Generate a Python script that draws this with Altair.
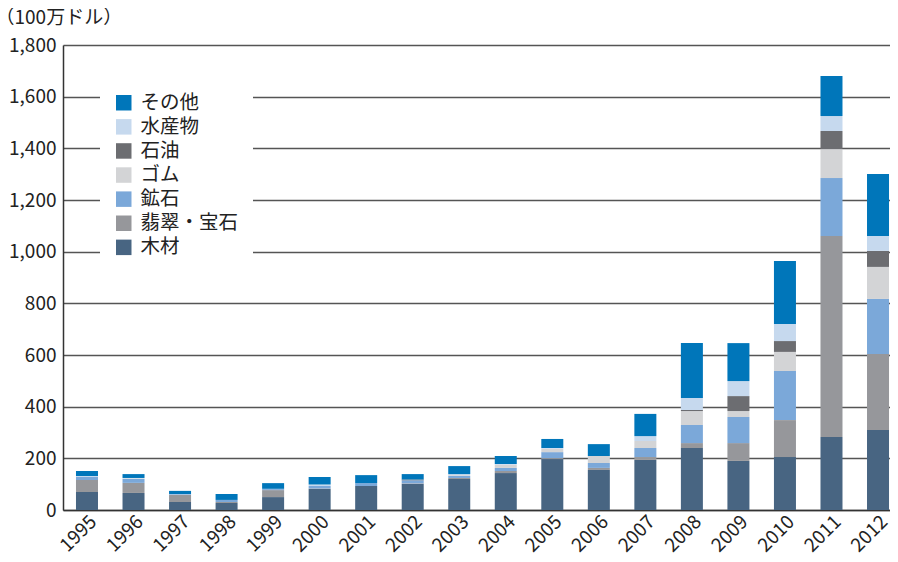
import altair as alt
import pandas as pd

years = [str(y) for y in range(1995, 2013)]
wood     = [70, 66, 31, 27, 50, 81, 93, 101, 120, 143, 197, 155, 194, 240, 190, 205, 283, 310]
jade     = [46, 39, 27, 4, 27, 2, 0, 2, 4, 8, 4, 8, 11, 19, 69, 143, 778, 294]
ore      = [12, 15, 3, 8, 4, 10, 11, 12, 8, 12, 23, 19, 35, 70, 101, 190, 224, 213]
rubber   = [0, 2, 0, 0, 0, 0, 0, 0, 3, 12, 13, 27, 27, 54, 23, 74, 112, 124]
oil      = [0, 0, 0, 0, 0, 0, 0, 3, 0, 0, 0, 0, 0, 4, 58, 42, 70, 62]
fish     = [4, 2, 1, 0, 1, 6, 0, 0, 4, 3, 3, 0, 19, 47, 58, 66, 58, 58]
other    = [19, 15, 12, 23, 22, 29, 31, 21, 31, 31, 35, 46, 86, 212, 147, 244, 155, 240]

cats = ["木材", "翡翠・宝石", "鉱石", "ゴム", "石油", "水産物", "その他"]
series = [wood, jade, ore, rubber, oil, fish, other]
colors = {"その他": "#0076BA", "水産物": "#C6D9EE", "石油": "#6C6D71",
          "ゴム": "#D3D4D6", "鉱石": "#7BA8D9", "翡翠・宝石": "#96979B", "木材": "#486582"}

rows = []
for ci, (c, vals) in enumerate(zip(cats, series)):
    for y, v in zip(years, vals):
        rows.append({"year": y, "cat": c, "value": v, "ord": ci})
df = pd.DataFrame(rows)

legend_order = ["その他", "水産物", "石油", "ゴム", "鉱石", "翡翠・宝石", "木材"]
FONT = "Noto Sans CJK JP"

chart = alt.Chart(df).mark_bar().encode(
    x=alt.X("year:N", sort=years, title=None,
            scale=alt.Scale(paddingInner=0.527, paddingOuter=0.15, align=0.93),
            axis=alt.Axis(labelAngle=-45, labelFontSize=19, labelFont=FONT, labelColor="#222",
                          ticks=False, labelPadding=2, domainColor="#333", domainWidth=1.5)),
    y=alt.Y("value:Q", stack="zero",
            scale=alt.Scale(domain=[0, 1800], nice=False),
            axis=alt.Axis(values=list(range(0, 1801, 200)), format=",.0f", labelFontSize=19,
                          labelFont=FONT, labelColor="#222", ticks=False, labelPadding=7,
                          gridColor="#555", gridWidth=1.5, domainColor="#333", domainWidth=1.5,
                          title="（100万ドル）", titleAngle=0, titleAlign="left",
                          titleBaseline="middle", titleX=-68, titleY=-28, titleFontSize=19,
                          titleFont=FONT, titleFontWeight="normal", titleColor="#222")),
    color=alt.Color("cat:N", scale=alt.Scale(domain=legend_order,
                                             range=[colors[c] for c in legend_order]),
                    legend=alt.Legend(title=None, orient="none", legendX=37, legendY=34,
                                      fillColor="white", padding=14, symbolType="square",
                                      symbolSize=240, symbolStrokeWidth=0, symbolOpacity=1,
                                      labelFontSize=19.5, labelFont=FONT, labelColor="#222",
                                      rowPadding=3.1, labelOffset=7)),
    order=alt.Order("ord:Q", sort="ascending"),
).properties(
    width=827, height=465,
    autosize=alt.AutoSizeParams(type="none"),
    padding={"left": 55, "top": 37, "right": 0, "bottom": 43},
).configure_view(stroke=None).configure_axis(gridOpacity=1)

chart.save("out.html", embed_options={"renderer": "svg", "actions": False})
